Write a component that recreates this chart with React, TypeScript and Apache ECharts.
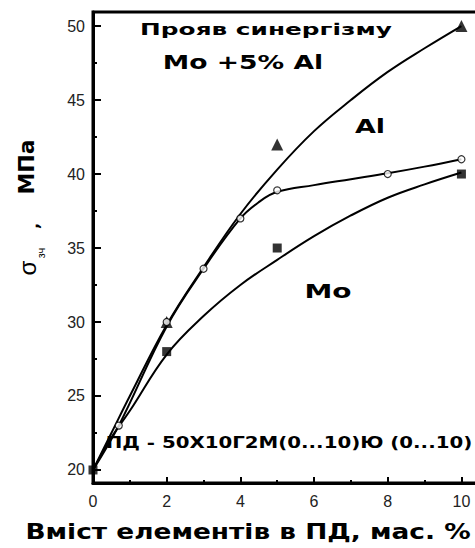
import React, { useEffect, useRef } from "react";
import * as echarts from "echarts";

// Fitted curves
const alCurve: [number, number][] = [
  [0, 20], [0.5, 22.5], [1, 25], [2, 29.8], [3, 33.7], [4, 37.3], [5, 40.3],
  [6, 42.9], [7, 45.0], [8, 46.9], [9, 48.5], [10, 50],
];
const moAlCurve: [number, number][] = [
  [0, 20], [0.7, 23], [2, 29.7], [3, 33.6], [4, 37], [4.5, 38.1], [5, 38.8],
  [6, 39.25], [7, 39.65], [8, 40.05], [9, 40.5], [10, 41],
];
const moCurve: [number, number][] = [
  [0, 20], [0.5, 22.2], [1, 24], [2, 27.8], [3, 30.4], [4, 32.5], [5, 34.2],
  [6, 35.8], [7, 37.2], [8, 38.4], [9, 39.3], [10, 40.1],
];

// Measured points
const alPoints: [number, number][] = [[2, 30], [5, 42], [10, 50]];
const moPoints: [number, number][] = [[0, 20], [2, 28], [5, 35], [10, 40]];
const moAlPoints: [number, number][] = [
  [0.7, 23], [2, 30], [3, 33.6], [4, 37], [5, 38.9], [8, 40], [10, 41],
];

const yMajorTicks = [20, 25, 30, 35, 40, 45, 50];
const yMinorTicks = [22.5, 27.5, 32.5, 37.5, 42.5, 47.5];

const BOLD = "'DejaVu Sans', sans-serif";

export default function App() {
  const ref = useRef<HTMLDivElement>(null);
  useEffect(() => {
    if (!ref.current) return;
    const chart = echarts.init(ref.current, null, { renderer: "svg" });
    const lineS = (data: [number, number][]) => ({
      type: "line",
      data,
      smooth: 0.4,
      symbol: "none",
      lineStyle: { color: "#000", width: 2 },
      z: 2,
    });
    const txt = (
      text: string,
      x: number,
      y: number,
      size: number,
      scaleX: number
    ) => ({
      type: "text",
      x,
      y,
      scaleX,
      z: 100,
      style: {
        text,
        fontSize: size,
        fontWeight: "bold",
        fontFamily: BOLD,
        fill: "#000",
        textAlign: "center",
        textVerticalAlign: "middle",
      },
    });
    chart.setOption({
      animation: false,
      backgroundColor: "#fff",
      grid: {
        left: 93,
        top: 12,
        width: 385,
        height: 471,
        show: true,
        borderColor: "#000",
        borderWidth: 3,
        outerBoundsMode: "none",
      },
      xAxis: {
        type: "value",
        min: 0,
        max: 10.45,
        interval: 2,
        axisLine: { show: true, lineStyle: { color: "#000", width: 3 } },
        axisTick: { show: true, inside: true, length: 6, lineStyle: { color: "#000", width: 2 } },
        minorTick: { show: true, splitNumber: 2, length: 3, lineStyle: { color: "#000", width: 2 } },
        splitLine: { show: false },
        axisLabel: {
          color: "#222",
          fontSize: 16,
          fontFamily: "'Liberation Sans', Arial, sans-serif",
          margin: 10,
          showMaxLabel: false,
        },
      },
      yAxis: [
        {
          type: "value",
          min: 19.12,
          max: 50.95,
          position: "left",
          axisLine: { show: true, lineStyle: { color: "#000", width: 3 } },
          axisTick: {
            show: true,
            inside: true,
            length: 8,
            customValues: yMajorTicks,
            lineStyle: { color: "#000", width: 2 },
          },
          splitLine: { show: false },
          axisLabel: {
            customValues: yMajorTicks,
            color: "#222",
            fontSize: 16,
            fontFamily: "'Liberation Sans', Arial, sans-serif",
            margin: 8,
          },
        },
        {
          type: "value",
          min: 19.12,
          max: 50.95,
          position: "left",
          axisLine: { show: false },
          axisTick: {
            show: true,
            inside: true,
            length: 4,
            customValues: yMinorTicks,
            lineStyle: { color: "#000", width: 2 },
          },
          splitLine: { show: false },
          axisLabel: { show: false },
        },
      ],
      series: [
        lineS(alCurve),
        lineS(moAlCurve),
        lineS(moCurve),
        {
          type: "scatter",
          data: alPoints,
          symbol: "triangle",
          symbolSize: 12,
          itemStyle: { color: "#000" },
          z: 5,
        },
        {
          type: "scatter",
          data: moPoints,
          symbol: "rect",
          symbolSize: 9,
          itemStyle: { color: "#000" },
          z: 5,
        },
        {
          type: "scatter",
          data: moAlPoints,
          symbol: "circle",
          symbolSize: 7,
          itemStyle: { color: "#fff", borderColor: "#000", borderWidth: 1.2 },
          z: 6,
        },
      ],
      graphic: [
        txt("Прояв синергізму", 266, 30, 16, 1.55),
        txt("Mo +5% Al", 243, 62, 19, 1.4),
        txt("Al", 370, 126, 20, 1.35),
        txt("Mo", 328, 291, 20, 1.4),
        txt("ПД - 50Х10Г2М(0...10)Ю (0...10)", 289, 443, 15, 1.32),
        txt("Вміст елементів в ПД, мас. %", 248, 531, 22, 1.2),
        {
          type: "text",
          x: 26,
          y: 167,
          rotation: Math.PI / 2,
          z: 100,
          style: {
            text: "МПа",
            fontSize: 22,
            fontWeight: "bold",
            fontFamily: BOLD,
            fill: "#000",
            textAlign: "center",
            textVerticalAlign: "middle",
          },
        },
        {
          type: "text",
          x: 33,
          y: 226,
          rotation: Math.PI / 2,
          z: 100,
          style: {
            text: ",",
            fontSize: 16,
            fontWeight: "bold",
            fontFamily: BOLD,
            fill: "#000",
            textAlign: "center",
            textVerticalAlign: "middle",
          },
        },
        {
          type: "text",
          x: 41,
          y: 253,
          rotation: Math.PI / 2,
          z: 100,
          style: {
            text: "зч",
            fontSize: 11,
            fontFamily: "'Liberation Sans', sans-serif",
            fill: "#000",
            textAlign: "center",
            textVerticalAlign: "middle",
          },
        },
        {
          type: "text",
          x: 27,
          y: 268,
          rotation: Math.PI / 2,
          z: 100,
          style: {
            text: "σ",
            fontSize: 24,
            fontFamily: "'Liberation Sans', sans-serif",
            fill: "#000",
            textAlign: "center",
            textVerticalAlign: "middle",
          },
        },
      ],
    });
    return () => chart.dispose();
  }, []);
  return (
    <div
      ref={ref}
      style={{
        position: "absolute",
        left: 0,
        top: 0,
        width: 475,
        height: 548,
        overflow: "hidden",
        background: "#fff",
      }}
    />
  );
}
